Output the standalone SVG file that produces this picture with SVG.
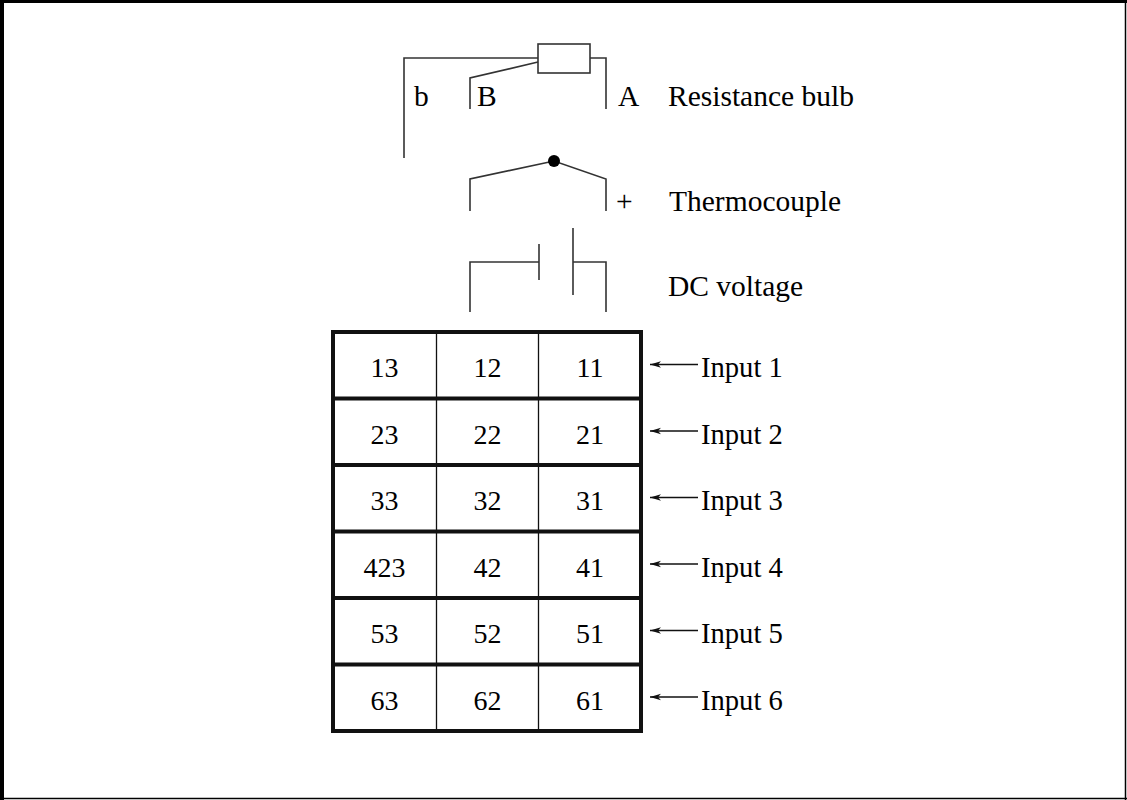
<svg xmlns="http://www.w3.org/2000/svg" width="1127" height="800" viewBox="0 0 1127 800">
<style>
.w{fill:none;stroke:#333;stroke-width:1.6}
.t{font-family:"Liberation Serif","Times New Roman",serif;font-size:28px;fill:#000}
.big{font-size:29.5px}
.inp{font-size:28.6px}
.c{text-anchor:middle}
.thick{stroke:#111;stroke-width:4;fill:none}
.thin{stroke:#111;stroke-width:1.3}
.arr{stroke:#111;stroke-width:1.3;fill:none;marker-end:url(#ah)}
</style>
<defs>
<marker id="ah" markerWidth="12" markerHeight="8" refX="11" refY="4" orient="auto" markerUnits="userSpaceOnUse">
<path d="M0,0.8 L11,4 L0,7.2 L3,4 Z" fill="#111"/>
</marker>
</defs>
<rect width="1127" height="800" fill="#fff"/>
<g id="frame">
<line x1="2" y1="0" x2="2" y2="800" stroke="#000" stroke-width="4"/>
<line x1="0" y1="1.5" x2="1127" y2="1.5" stroke="#000" stroke-width="3"/>
<line x1="1125.5" y1="0" x2="1125.5" y2="800" stroke="#000" stroke-width="1.5"/>
<line x1="0" y1="798.5" x2="1127" y2="798.5" stroke="#000" stroke-width="1.5"/>
</g>
<g id="resistance-bulb">
<rect x="538" y="44" width="52" height="29" class="w"/>
<polyline points="538,58 404,58 404,158" class="w"/>
<polyline points="590,58 606,58 606,109" class="w"/>
<polyline points="538,62 470,78 470,109" class="w"/>
<text x="414" y="106" class="t big">b</text>
<text x="477" y="106" class="t big">B</text>
<text x="618" y="106" class="t big">A</text>
<text x="668" y="106" class="t big">Resistance bulb</text>
</g>
<g id="thermocouple">
<polyline points="470,211 470,179 554,161 606,179 606,211" class="w"/>
<circle cx="554" cy="161" r="6" fill="#000"/>
<text x="616" y="211" class="t big">+</text>
<text x="669" y="211" class="t big">Thermocouple</text>
</g>
<g id="dc-voltage">
<polyline points="470,312 470,262 539,262" class="w"/>
<line x1="539" y1="244" x2="539" y2="280" class="w"/>
<line x1="573" y1="228" x2="573" y2="295" class="w"/>
<polyline points="573,262 606,262 606,312" class="w"/>
<text x="668" y="296" class="t big">DC voltage</text>
</g>
<g id="terminal-block">
<line x1="436.5" y1="332" x2="436.5" y2="731" class="thin"/>
<line x1="538.5" y1="332" x2="538.5" y2="731" class="thin"/>
<line x1="333" y1="398.5" x2="641" y2="398.5" class="thick"/>
<line x1="333" y1="465" x2="641" y2="465" class="thick"/>
<line x1="333" y1="531.5" x2="641" y2="531.5" class="thick"/>
<line x1="333" y1="598" x2="641" y2="598" class="thick"/>
<line x1="333" y1="664.5" x2="641" y2="664.5" class="thick"/>
<rect x="333" y="332" width="308" height="399" class="thick"/>
<g class="t c">
<text x="384.5" y="377">13</text><text x="487.5" y="377">12</text><text x="590" y="377">11</text>
<text x="384.5" y="444">23</text><text x="487.5" y="444">22</text><text x="590" y="444">21</text>
<text x="384.5" y="510">33</text><text x="487.5" y="510">32</text><text x="590" y="510">31</text>
<text x="384.5" y="577">423</text><text x="487.5" y="577">42</text><text x="590" y="577">41</text>
<text x="384.5" y="643">53</text><text x="487.5" y="643">52</text><text x="590" y="643">51</text>
<text x="384.5" y="710">63</text><text x="487.5" y="710">62</text><text x="590" y="710">61</text>
</g>
</g>
<g id="connectors">
<line x1="698" y1="364.5" x2="650" y2="364.5" class="arr"/>
<line x1="698" y1="431" x2="650" y2="431" class="arr"/>
<line x1="698" y1="497.5" x2="650" y2="497.5" class="arr"/>
<line x1="698" y1="564" x2="650" y2="564" class="arr"/>
<line x1="698" y1="630.5" x2="650" y2="630.5" class="arr"/>
<line x1="698" y1="697" x2="650" y2="697" class="arr"/>
</g>
<g id="input-labels" class="t inp">
<text x="701" y="377">Input 1</text>
<text x="701" y="444">Input 2</text>
<text x="701" y="510">Input 3</text>
<text x="701" y="577">Input 4</text>
<text x="701" y="643">Input 5</text>
<text x="701" y="710">Input 6</text>
</g>
</svg>
